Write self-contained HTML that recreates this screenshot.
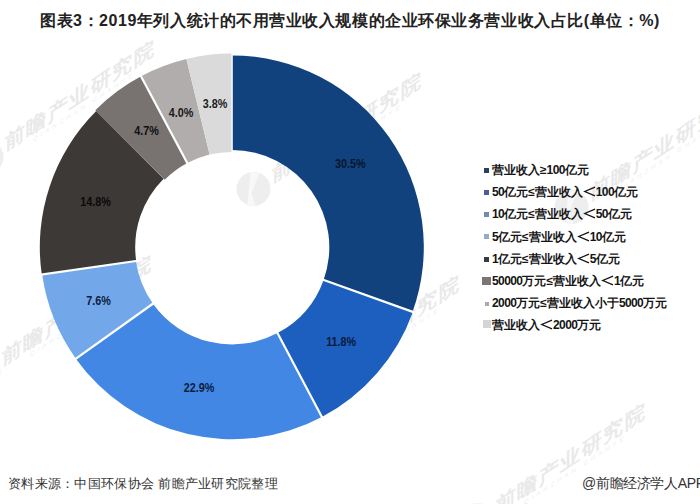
<!DOCTYPE html>
<html><head><meta charset="utf-8">
<style>
html,body{margin:0;padding:0;background:#fff;}
body{width:700px;height:504px;position:relative;overflow:hidden;font-family:"Liberation Sans",sans-serif;}
.title{position:absolute;left:40px;top:10px;font-size:16px;letter-spacing:0.55px;font-weight:bold;color:#222;white-space:nowrap;line-height:22px;}
#chart{position:absolute;left:0;top:0;}
.lm{position:absolute;}
.lt{position:absolute;left:492px;font-size:12px;font-weight:bold;color:#151515;white-space:nowrap;line-height:18px;}
.d{letter-spacing:-0.6px;}
.lt2{display:inline-block;vertical-align:-1px;}
.foot{position:absolute;top:474px;font-size:14px;color:#333;white-space:nowrap;line-height:18px;}
</style></head><body>
<div class="title">图表3：2019年列入统计的不用营业收入规模的企业环保业务营业收入占比(单位：%)</div>
<svg id="chart" width="700" height="504" viewBox="0 0 700 504">
<g font-family="Liberation Sans, sans-serif"><g transform="translate(-13.5,157)"><circle r="17" fill="#eeeeee"/><path d="M-3,-17 L6,-16 L-2,4 L2,17 L-6,16 Z" fill="#f8f8f8"/></g><g transform="translate(5,151) skewY(-33)"><text x="0" y="0" font-size="20" font-weight="bold" letter-spacing="1.5" fill="#e9e9e9">前瞻产业研究院</text><text x="28" y="9" font-size="6" letter-spacing="3" fill="#efefef">QIANZHAN CHANYE</text></g><g transform="translate(-16.5,372)"><circle r="17" fill="#eeeeee"/><path d="M-3,-17 L6,-16 L-2,4 L2,17 L-6,16 Z" fill="#f8f8f8"/></g><g transform="translate(2,366) skewY(-33)"><text x="0" y="0" font-size="20" font-weight="bold" letter-spacing="1.5" fill="#e9e9e9">前瞻产业研究院</text><text x="28" y="9" font-size="6" letter-spacing="3" fill="#efefef">QIANZHAN CHANYE</text></g><g transform="translate(253.5,189)"><circle r="17" fill="#eeeeee"/><path d="M-3,-17 L6,-16 L-2,4 L2,17 L-6,16 Z" fill="#f8f8f8"/></g><g transform="translate(272,183) skewY(-33)"><text x="0" y="0" font-size="20" font-weight="bold" letter-spacing="1.5" fill="#e9e9e9">前瞻产业研究院</text><text x="28" y="9" font-size="6" letter-spacing="3" fill="#efefef">QIANZHAN CHANYE</text></g><g transform="translate(571.5,207)"><circle r="17" fill="#eeeeee"/><path d="M-3,-17 L6,-16 L-2,4 L2,17 L-6,16 Z" fill="#f8f8f8"/></g><g transform="translate(590,201) skewY(-33)"><text x="0" y="0" font-size="20" font-weight="bold" letter-spacing="1.5" fill="#e9e9e9">前瞻产业研究院</text><text x="28" y="9" font-size="6" letter-spacing="3" fill="#efefef">QIANZHAN CHANYE</text></g><g transform="translate(291.5,392)"><circle r="17" fill="#eeeeee"/><path d="M-3,-17 L6,-16 L-2,4 L2,17 L-6,16 Z" fill="#f8f8f8"/></g><g transform="translate(310,386) skewY(-33)"><text x="0" y="0" font-size="20" font-weight="bold" letter-spacing="1.5" fill="#e9e9e9">前瞻产业研究院</text><text x="28" y="9" font-size="6" letter-spacing="3" fill="#efefef">QIANZHAN CHANYE</text></g><g transform="translate(477.5,520)"><circle r="17" fill="#eeeeee"/><path d="M-3,-17 L6,-16 L-2,4 L2,17 L-6,16 Z" fill="#f8f8f8"/></g><g transform="translate(496,514) skewY(-33)"><text x="0" y="0" font-size="20" font-weight="bold" letter-spacing="1.5" fill="#e9e9e9">前瞻产业研究院</text><text x="28" y="9" font-size="6" letter-spacing="3" fill="#efefef">QIANZHAN CHANYE</text></g></g>
<g>
<path d="M232.10,55.50A191.7,191.7 0 0 1 412.59,311.79L323.62,279.95A97.2,97.2 0 0 0 232.10,150.00Z" fill="#11427E"/><path d="M412.87,311.89A192.0,192.0 0 0 1 321.86,416.93L277.54,333.12A97.2,97.2 0 0 0 323.62,279.95Z" fill="#1C5FBE"/><path d="M321.86,416.93A192.0,192.0 0 0 1 75.82,358.73L152.98,303.66A97.2,97.2 0 0 0 277.54,333.12Z" fill="#4287E4"/><path d="M75.90,358.68A191.9,191.9 0 0 1 42.15,274.51L135.89,261.03A97.2,97.2 0 0 0 152.98,303.66Z" fill="#72A8E9"/><path d="M41.76,274.57A192.3,192.3 0 0 1 96.23,111.12L163.64,178.63A96.9,96.9 0 0 0 136.19,260.99Z" fill="#3D3937"/><path d="M95.31,110.20A193.6,193.6 0 0 1 141.06,76.34L187.28,163.10A95.3,95.3 0 0 0 164.77,179.76Z" fill="#787271"/><path d="M141.06,76.34A193.6,193.6 0 0 1 186.36,59.08L209.58,154.60A95.3,95.3 0 0 0 187.28,163.10Z" fill="#B0ADAC"/><path d="M186.36,59.08A193.6,193.6 0 0 1 232.10,53.60L232.10,151.90A95.3,95.3 0 0 0 209.58,154.60Z" fill="#DADADA"/>
</g>
<g stroke="#fff"><line x1="316.84" y1="277.52" x2="420.41" y2="314.59" stroke-width="2.2"/><line x1="274.17" y1="326.76" x2="325.60" y2="424.00" stroke-width="2.2"/><line x1="158.84" y1="299.48" x2="69.31" y2="363.38" stroke-width="2.2"/><line x1="143.02" y1="260.01" x2="34.14" y2="275.66" stroke-width="2.2"/><line x1="189.78" y1="167.77" x2="138.05" y2="70.70" stroke-width="2.2"/><line x1="232.10" y1="157.20" x2="232.10" y2="47.20" stroke-width="1.3"/></g>
<g font-family="Liberation Sans, sans-serif" font-size="12.4" font-weight="bold" text-anchor="middle">
<text transform="translate(350.2,168.2) scale(0.87,1)" fill="#08162E">30.5%</text><text transform="translate(341.2,345.6) scale(0.87,1)" fill="#0A1A3A">11.8%</text><text transform="translate(199.1,391.5) scale(0.87,1)" fill="#0A1C40">22.9%</text><text transform="translate(98.5,304.8) scale(0.87,1)" fill="#0C2040">7.6%</text><text transform="translate(95.5,205.6) scale(0.87,1)" fill="#0A0A0A">14.8%</text><text transform="translate(146.5,135.3) scale(0.87,1)" fill="#111111">4.7%</text><text transform="translate(181.0,116.5) scale(0.87,1)" fill="#1a1a1a">4.0%</text><text transform="translate(215.1,108.1) scale(0.87,1)" fill="#1a1a1a">3.8%</text>
</g>
</svg>
<div class="lm" style="left:484px;top:168px;width:5px;height:5px;background:#2B3F63"></div><div class="lt" style="top:161.0px">营业收入≥<span class="d">100</span>亿元</div><div class="lm" style="left:484px;top:189.5px;width:5px;height:5px;background:#4A5F95"></div><div class="lt" style="top:183.2px"><span class="d">50</span>亿元≤营业收入<svg class="lt2" width="13" height="11" viewBox="0 0 13 11"><polyline points="12,1.2 1.8,5.5 12,9.8" fill="none" stroke="#151515" stroke-width="1.3"/></svg><span class="d">100</span>亿元</div><div class="lm" style="left:484px;top:211.5px;width:5px;height:5px;background:#6E8CB4"></div><div class="lt" style="top:205.4px"><span class="d">10</span>亿元≤营业收入<svg class="lt2" width="13" height="11" viewBox="0 0 13 11"><polyline points="12,1.2 1.8,5.5 12,9.8" fill="none" stroke="#151515" stroke-width="1.3"/></svg><span class="d">50</span>亿元</div><div class="lm" style="left:484px;top:234px;width:5px;height:5px;background:#93ABC8"></div><div class="lt" style="top:227.6px"><span class="d">5</span>亿元≤营业收入<svg class="lt2" width="13" height="11" viewBox="0 0 13 11"><polyline points="12,1.2 1.8,5.5 12,9.8" fill="none" stroke="#151515" stroke-width="1.3"/></svg><span class="d">10</span>亿元</div><div class="lm" style="left:484px;top:256.5px;width:5px;height:5px;background:#3A3A3A"></div><div class="lt" style="top:249.8px"><span class="d">1</span>亿元≤营业收入<svg class="lt2" width="13" height="11" viewBox="0 0 13 11"><polyline points="12,1.2 1.8,5.5 12,9.8" fill="none" stroke="#151515" stroke-width="1.3"/></svg><span class="d">5</span>亿元</div><div class="lm" style="left:482px;top:277px;width:8.5px;height:7.5px;background:#7A7675"></div><div class="lt" style="top:272.0px"><span class="d">50000</span>万元≤营业收入<svg class="lt2" width="13" height="11" viewBox="0 0 13 11"><polyline points="12,1.2 1.8,5.5 12,9.8" fill="none" stroke="#151515" stroke-width="1.3"/></svg><span class="d">1</span>亿元</div><div class="lm" style="left:484.5px;top:301.5px;width:4px;height:4px;background:#ABABAB"></div><div class="lt" style="top:294.2px"><span class="d">2000</span>万元≤营业收入小于<span class="d">5000</span>万元</div><div class="lm" style="left:482.5px;top:320px;width:8.5px;height:8px;background:#D5D5D5"></div><div class="lt" style="top:316.4px">营业收入<svg class="lt2" width="13" height="11" viewBox="0 0 13 11"><polyline points="12,1.2 1.8,5.5 12,9.8" fill="none" stroke="#151515" stroke-width="1.3"/></svg><span class="d">2000</span>万元</div>
<div class="foot" style="left:8px;font-size:13px;letter-spacing:0.3px;top:474.5px">资料来源：中国环保协会 前瞻产业研究院整理</div>
<div class="foot" style="left:582px;letter-spacing:-0.35px">@前瞻经济学人APP</div>
</body></html>
